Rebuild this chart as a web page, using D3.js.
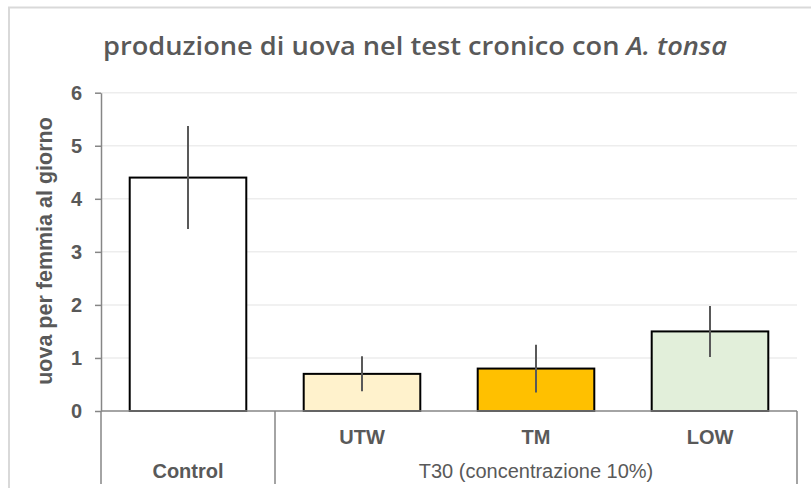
<!DOCTYPE html>
<html>
<head>
<meta charset="utf-8">
<script src="https://cdn.jsdelivr.net/npm/d3@7"></script>
<style>
	body { margin: 0; background: #fff; }
	.axis text { font-family: "Liberation Sans", Arial, sans-serif; font-weight: bold; font-size: 20px; fill: #595959; }
	.axis path, .axis line { stroke: #868686; stroke-width: 1.5; }
</style>
</head>
<body>
<svg id="chart"></svg>
<script>
/* Data */
var categories = ["Control", "UTW", "TM", "LOW"];
var groups = ["", "T30 (concentrazione 10%)"];
var groupOf = [0, 1, 1, 1];
var values = [4.4, 0.7, 0.8, 1.5];
var errors = [0.97, 0.33, 0.45, 0.48];
var fills = ["#ffffff", "#fff2cc", "#ffc000", "#e2efda"];
var yTicks = [0, 1, 2, 3, 4, 5, 6];

var W = 811, H = 488;
var svg = d3.select("#chart").attr("width", W).attr("height", H);

/* Frame */
svg.append("rect")
	.attr("x", 9).attr("y", 7.5)
	.attr("width", W).attr("height", H)
	.attr("fill", "#fff")
	.attr("stroke", "#d9d9d9")
	.attr("stroke-width", 2);

/* Title */
var title = svg.append("text")
	.attr("x", 103).attr("y", 55)
	.attr("textLength", 624)
	.attr("lengthAdjust", "spacingAndGlyphs")
	.style("font-family", "'Open Sans', sans-serif")
	.style("font-weight", 600)
	.style("font-size", "26px")
	.style("fill", "#595959");
title.append("tspan").text("produzione di uova nel test cronico con ");
title.append("tspan").style("font-style", "italic").text("A. tonsa");

/* Scales */
var x = d3.scaleBand()
	.domain(categories)
	.range([101, 797])
	.paddingInner(0.33)
	.paddingOuter(0.165);

var y = d3.scaleLinear()
	.domain([0, 6])
	.range([411, 92.7]);

/* Gridlines */
svg.append("g")
	.selectAll("line")
	.data(yTicks.slice(1))
	.enter().append("line")
	.attr("x1", 101).attr("x2", 797)
	.attr("y1", function(d){ return y(d); })
	.attr("y2", function(d){ return y(d); })
	.attr("stroke", "#ededed")
	.attr("stroke-width", 1.5);

/* Bars */
svg.append("g")
	.selectAll("rect")
	.data(values)
	.enter().append("rect")
	.attr("x", function(d, i){ return x(categories[i]); })
	.attr("y", function(d){ return y(d); })
	.attr("width", x.bandwidth())
	.attr("height", function(d){ return y(0) - y(d); })
	.attr("fill", function(d, i){ return fills[i]; })
	.attr("stroke", "#000")
	.attr("stroke-width", 2);

/* Error bars */
svg.append("g")
	.selectAll("line")
	.data(values)
	.enter().append("line")
	.attr("x1", function(d, i){ return x(categories[i]) + x.bandwidth() / 2; })
	.attr("x2", function(d, i){ return x(categories[i]) + x.bandwidth() / 2; })
	.attr("y1", function(d, i){ return y(d + errors[i]); })
	.attr("y2", function(d, i){ return y(d - errors[i]); })
	.attr("stroke", "#595959")
	.attr("stroke-width", 2);

/* Y axis */
svg.append("g")
	.attr("class", "axis")
	.attr("transform", "translate(101,0)")
	.call(d3.axisLeft(y).tickValues(yTicks).tickFormat(d3.format("d"))
		.tickSize(6).tickPadding(13).tickSizeOuter(0));

/* X axis (multi-level) */
var step = x.step();
var xAxis = svg.append("g").attr("class", "axis");

xAxis.append("line")
	.attr("x1", 101).attr("x2", 797)
	.attr("y1", y(0)).attr("y2", y(0));

var bounds = [101];
groups.forEach(function(g, gi){
	var last = categories.filter(function(c, i){ return groupOf[i] === gi; });
	bounds.push(x(last[last.length - 1]) + x.bandwidth() / 2 + step / 2);
});

xAxis.selectAll(".sep")
	.data(bounds)
	.enter().append("line")
	.attr("class", "sep")
	.attr("x1", function(d){ return d; })
	.attr("x2", function(d){ return d; })
	.attr("y1", y(0)).attr("y2", 484);

// inner labels; a category with no group sits in the lower row
xAxis.selectAll(".cat")
	.data(categories)
	.enter().append("text")
	.attr("class", "cat")
	.attr("x", function(d){ return x(d) + x.bandwidth() / 2; })
	.attr("y", function(d, i){ return groups[groupOf[i]] === "" ? 478 : 444; })
	.attr("text-anchor", "middle")
	.text(function(d){ return d; });

xAxis.selectAll(".grp")
	.data(groups)
	.enter().append("text")
	.attr("class", "grp")
	.attr("x", function(d, gi){ return (bounds[gi] + bounds[gi + 1]) / 2; })
	.attr("y", 478)
	.attr("text-anchor", "middle")
	.style("font-weight", "normal")
	.text(function(d){ return d; });

/* Y axis title */
svg.append("text")
	.attr("transform", "translate(52,251) rotate(-90)")
	.attr("text-anchor", "middle")
	.style("font-family", "'Liberation Sans', Arial, sans-serif")
	.style("font-weight", "bold")
	.style("font-size", "21.5px")
	.style("fill", "#595959")
	.text("uova per femmia al giorno");
</script>
</body>
</html>
